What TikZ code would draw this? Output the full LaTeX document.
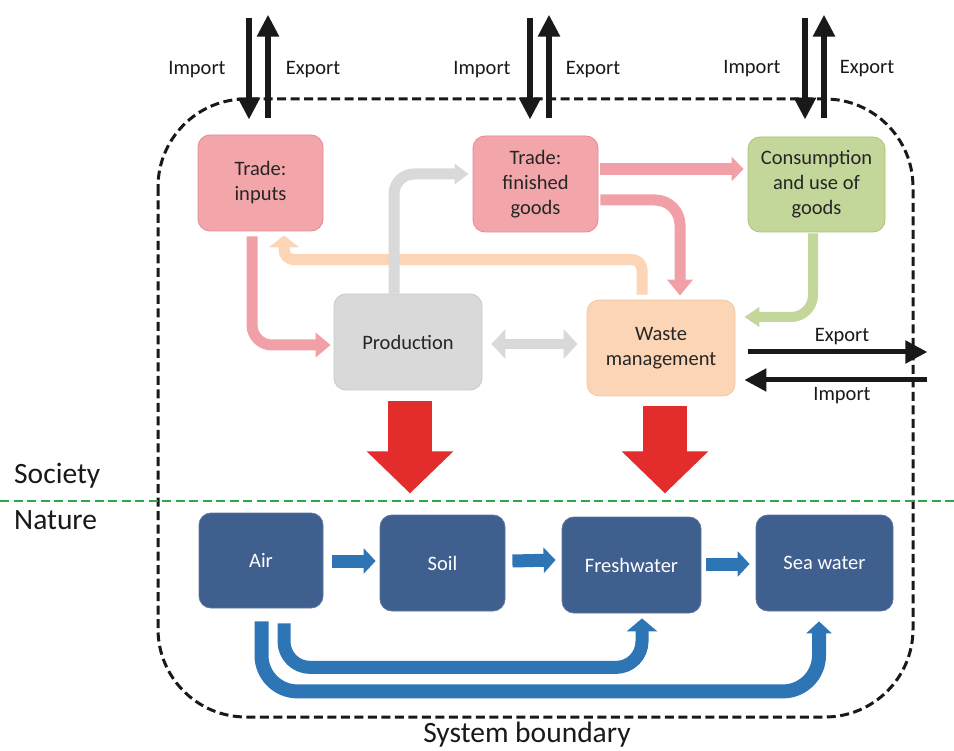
\documentclass[tikz,border=0pt]{standalone}
\usepackage{fontspec}
\setmainfont{Carlito}
\usetikzlibrary{arrows.meta,calc}
\definecolor{pinkbox}{RGB}{243,166,170}
\definecolor{pinkline}{RGB}{229,138,144}
\definecolor{pinkarr}{RGB}{240,160,166}
\definecolor{greenbox}{RGB}{196,215,155}
\definecolor{greenline}{RGB}{168,194,118}
\definecolor{graybox}{RGB}{217,217,217}
\definecolor{grayline}{RGB}{200,200,200}
\definecolor{peachbox}{RGB}{251,213,181}
\definecolor{peachline}{RGB}{240,200,165}
\definecolor{bluebox}{RGB}{63,95,143}
\definecolor{bluearr}{RGB}{46,117,182}
\definecolor{redarr}{RGB}{227,45,45}
\definecolor{sepgreen}{RGB}{43,168,74}
\definecolor{txt}{RGB}{38,38,38}
\tikzset{
  box/.style={rounded corners=12pt, inner sep=0pt, align=center, text=txt,
    font=\fontsize{20.5}{25}\selectfont, line width=0.8pt},
  pinkb/.style={box, fill=pinkbox, draw=pinkline},
  greenb/.style={box, fill=greenbox, draw=greenline},
  grayb/.style={box, fill=graybox, draw=grayline},
  peachb/.style={box, fill=peachbox, draw=peachline},
  blueb/.style={box, fill=bluebox, draw=bluebox!85!white, text=white},
  lbl/.style={font=\fontsize{20.5}{22}\selectfont, text=black!90, inner sep=0pt},
  bigl/.style={font=\fontsize{29.5}{31}\selectfont, text=black!90, inner sep=0pt},
  blackarr/.style={line width=5.5pt, draw=black!90, -{Triangle[width=21pt,length=22pt]}},
  sidearr/.style={line width=5pt, draw=black!90, -{Triangle[width=22pt,length=22pt]}},
  redbig/.style={line width=44pt, draw=redarr, -{Triangle[width=84pt,length=42pt]}},
}
\begin{document}
\begin{tikzpicture}[x=1pt,y=-1pt]
\useasboundingbox (0,0) rectangle (954,751);
\fill[white] (0,0) rectangle (954,751);

% system boundary
\draw[line width=3pt, dash pattern=on 9pt off 4.5pt, black!90, rounded corners=88pt]
  (158,99) rectangle (913,717);
% society / nature separator
\coordinate (sepL) at (0,501);
\coordinate (sepR) at (954,501);
\draw[line width=2.8pt, dash pattern=on 9pt off 4.5pt, sepgreen] (sepL) -- (sepR);

\node[bigl, anchor=base west] (soc) at (14,483) {Society};
\node[bigl, anchor=base west] (nat) at (14,529) {Nature};
\node[bigl, anchor=base] (sysb) at (527,742) {System boundary};

% boxes
\node[pinkb, minimum width=125pt, minimum height=96pt] (tin) at (260.5,183) {Trade:\\inputs};
\node[pinkb, minimum width=125pt, minimum height=96pt] (tfg) at (535.5,184) {Trade:\\finished\\goods};
\node[greenb, minimum width=137pt, minimum height=95pt] (cons) at (816.5,184.5) {Consumption\\and use of\\goods};
\node[grayb, minimum width=148pt, minimum height=96pt] (prod) at (408,342) {Production};
\node[peachb, minimum width=148pt, minimum height=96pt] (waste) at (661,348) {Waste\\management};
\node[blueb, minimum width=124pt, minimum height=95pt] (air) at (261,560.5) {Air};
\node[blueb, minimum width=125pt, minimum height=96pt] (soil) at (442.5,563) {Soil};
\node[blueb, minimum width=139pt, minimum height=96pt] (fresh) at (631.5,565) {Freshwater};
\node[blueb, minimum width=137pt, minimum height=96pt] (sea) at (824.5,563) {Sea water};

% society flows
\draw[line width=11pt, pinkarr, rounded corners=20pt, -{Triangle[width=24pt,length=15pt]}]
  ($(tin.south)+(-8.5,5)$) |- ($(prod.west)+(-3,3)$);
\draw[line width=11pt, peachbox, rounded corners=10pt, -{Triangle[width=30pt,length=12pt]}]
  ($(waste.north)+(-19,-5)$) -- ($(waste.north)+(-19,-40)$) -| ($(tin.south)+(23.5,4)$);
\draw[line width=11pt, graybox, rounded corners=20pt, -{Triangle[width=20pt,length=14pt]}]
  ($(prod.north)+(-14,0)$) |- ($(tfg.west)+(-4,-10)$);
\draw[line width=12pt, pinkarr, -{Triangle[width=24pt,length=12pt]}]
  ($(tfg.east)+(2,-15)$) -- ($(cons.west)+(-4,-15.5)$);
\draw[line width=11pt, pinkarr, rounded corners=25pt, -{Triangle[width=25pt,length=16pt]}]
  ($(tfg.east)+(2,16)$) -| ($(waste.north)+(19,-4)$);
\draw[line width=10pt, greenbox, rounded corners=22pt, -{Triangle[width=19pt,length=15pt]}]
  ($(cons.south)+(-3.5,1)$) |- ($(waste.east)+(9,-31)$);
\draw[line width=10pt, graybox, {Triangle[width=29pt,length=14pt]}-{Triangle[width=29pt,length=14pt]}]
  ($(prod.east)+(9,2)$) -- ($(waste.west)+(-9,-4)$);

% emissions to nature
\coordinate (red1) at ($(prod.south)+(2,103)$);
\coordinate (red2) at ($(waste.south)+(4,97)$);
\draw[redbig] ($(prod.south)+(2,11)$) -- (red1);
\draw[redbig] ($(waste.south)+(4,10)$) -- (red2);

% nature flows
\draw[line width=13pt, bluearr, -{Triangle[width=25pt,length=12pt]}]
  ($(air.east)+(9,0.5)$) -- ($(soil.west)+(-4,-2)$);
\draw[line width=13pt, bluearr, -{Triangle[width=25pt,length=12pt]}]
  ($(soil.east)+(7,-2)$) -- ($(fresh.west)+(-6,-5)$);
\draw[line width=13pt, bluearr, -{Triangle[width=25pt,length=12pt]}]
  ($(fresh.east)+(5,-1)$) -- ($(sea.west)+(-6,1)$);
\draw[line width=13pt, bluearr, rounded corners=26pt, -{Triangle[width=30pt,length=13pt]}]
  ($(air.south)+(23,15)$) -- ($(air.south)+(23,59)$) -| ($(fresh.south)+(10.5,5)$);
\draw[line width=14pt, bluearr, rounded corners=36pt, -{Triangle[width=25pt,length=12pt]}]
  ($(air.south)+(0.5,13)$) -- ($(air.south)+(0.5,83)$) -| ($(sea.south)+(-5.5,10)$);

% import / export at the top
\coordinate (tinI) at ($(tin.north)+(-11.5,-117)$);
\coordinate (tinE) at ($(tin.north)+(7.5,-120)$);
\coordinate (tfgI) at ($(tfg.north)+(-5.5,-118)$);
\coordinate (tfgE) at ($(tfg.north)+(13.5,-121)$);
\coordinate (consI) at ($(cons.north)+(-11.5,-119)$);
\coordinate (consE) at ($(cons.north)+(7.5,-122)$);
\draw[blackarr] (tinI) -- ($(tin.north)+(-11.5,-15)$);
\draw[blackarr] ($(tin.north)+(7.5,-17)$) -- (tinE);
\draw[blackarr] (tfgI) -- ($(tfg.north)+(-5.5,-16)$);
\draw[blackarr] ($(tfg.north)+(13.5,-18)$) -- (tfgE);
\draw[blackarr] (consI) -- ($(cons.north)+(-11.5,-17)$);
\draw[blackarr] ($(cons.north)+(7.5,-19)$) -- (consE);
\node[lbl] (l1) at (197,70) {Import};
\node[lbl] (l2) at (313,70) {Export};
\node[lbl] (l3) at (482,70) {Import};
\node[lbl] (l4) at (593,70) {Export};
\node[lbl] (l5) at (752,69) {Import};
\node[lbl] (l6) at (867,69) {Export};

% import / export of waste
\coordinate (wE) at ($(waste.east)+(192,4)$);
\coordinate (wI) at ($(waste.east)+(192,32)$);
\draw[sidearr] ($(waste.east)+(13,4)$) -- (wE);
\draw[sidearr] (wI) -- ($(waste.east)+(9,32)$);
\node[lbl] (l7) at (842,337) {Export};
\node[lbl] (l8) at (842,396) {Import};
\end{tikzpicture}
\end{document}
